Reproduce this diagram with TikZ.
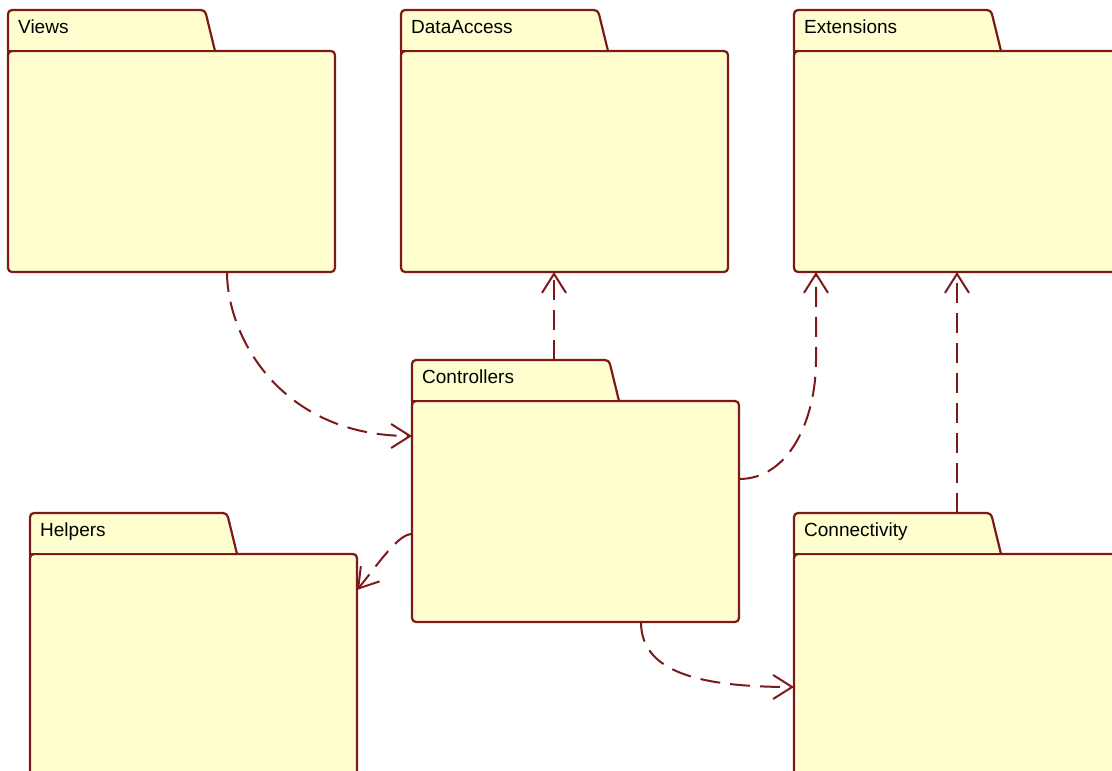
\documentclass[tikz,border=0pt]{standalone}
\usepackage{fontspec}
\setmainfont{Liberation Sans}
\usetikzlibrary{arrows.meta}
\definecolor{pkgline}{RGB}{125,25,25}
\definecolor{pkgfill}{RGB}{254,254,206}
\tikzset{
  pkgbody/.style={draw=pkgline, fill=pkgfill, line width=2.2pt, rounded corners=4pt,
    minimum width=327pt, minimum height=221pt, anchor=north west,
    inner sep=0pt, outer sep=0pt},
  pkgtab/.style={draw=pkgline, fill=pkgfill, line width=2.2pt, rounded corners=4pt},
  pkgedge/.style={draw=pkgline, line width=2.2pt},
  pkglabel/.style={anchor=base west, inner sep=0pt,
    font=\fontsize{19}{22}\selectfont, text=black},
  dep/.style={draw=pkgline, line width=2pt, dash pattern=on 20pt off 10pt,
    -{Straight Barb[length=19pt,width=24pt]}},
}
% #1 node name, #2 north-west corner of the package body, #3 title
\newcommand\umlpackage[3]{%
  \node[pkgbody] (#1) at (#2) {};
  \draw[pkgtab] (#1.north west) -- ++(0,41) -- ++(197,0) -- ++(10,-41);
  \draw[pkgedge] ([yshift=-8pt]#1.north west) -- (#1.north west) -- ++(207,0);
  \node[pkglabel] (#1-title) at ([xshift=10pt,yshift=18pt]#1.north west) {#3};
}
\begin{document}
\begin{tikzpicture}[x=1pt,y=1pt]
  \useasboundingbox (0,0) rectangle (1112,-771);
  \clip (0,0) rectangle (1112,-771);

  \umlpackage{views}{8,-51}{Views}
  \umlpackage{data}{401,-51}{DataAccess}
  \umlpackage{ext}{794,-51}{Extensions}
  \umlpackage{ctrl}{412,-401}{Controllers}
  \umlpackage{help}{30,-554}{Helpers}
  \umlpackage{conn}{794,-554}{Connectivity}

  % dependencies
  \draw[dep] ([xshift=219pt]views.south west)
    .. controls +(0,-64) and +(-132,0) .. ([yshift=-35pt]ctrl.north west);
  \draw[dep] ([xshift=142pt,yshift=41pt]ctrl.north west)
    -- ([xshift=153pt]data.south west);
  \draw[dep] ([yshift=-78pt]ctrl.north east)
    .. controls +(50,0) and +(0,-60) .. ([xshift=22pt,yshift=-88pt]ext.south west)
    -- ([xshift=22pt]ext.south west);
  \draw[dep] ([xshift=163pt,yshift=41pt]conn.north west)
    -- ([xshift=163pt]ext.south west);
  \draw[dep] ([yshift=-133pt]ctrl.north west)
    .. controls +(-14,0) and +(22,27) .. ([yshift=-36pt]help.north east);
  \draw[dep] ([xshift=229pt]ctrl.south west)
    .. controls +(0,-50) and +(-95,0) .. ([yshift=-133pt]conn.north west);
\end{tikzpicture}
\end{document}
